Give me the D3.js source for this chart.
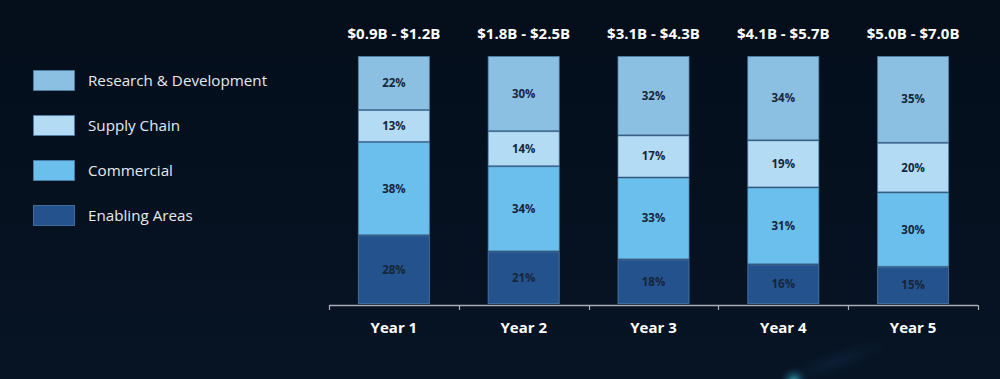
<!DOCTYPE html>
<html>
<head>
<meta charset="utf-8">
<script src="https://cdn.jsdelivr.net/npm/d3@7"></script>
<style>
  html, body { margin: 0; padding: 0; background: #06111f; }
  svg { display: block; }
  text { font-family: "Open Sans", "Noto Sans", sans-serif; }
</style>
</head>
<body>
<svg id="chart" width="1000" height="379"></svg>
<script>
// ---- data ----
const years = ["Year 1", "Year 2", "Year 3", "Year 4", "Year 5"];
const totals = ["$0.9B - $1.2B", "$1.8B - $2.5B", "$3.1B - $4.3B", "$4.1B - $5.7B", "$5.0B - $7.0B"];
const seriesNames = ["Enabling Areas", "Commercial", "Supply Chain", "Research & Development"];
const enabling = [28, 21, 18, 16, 15];
const commercial = [38, 34, 33, 31, 30];
const supplyChain = [13, 14, 17, 19, 20];
const research = [22, 30, 32, 34, 35];
const legendOrder = ["Research & Development", "Supply Chain", "Commercial", "Enabling Areas"];

const colors = {
  "Research & Development": "#8cc0e3",
  "Supply Chain": "#b4dbf4",
  "Commercial": "#6bbfec",
  "Enabling Areas": "#23528c"
};

const rows = years.map((y, i) => ({
  year: y,
  "Enabling Areas": enabling[i],
  "Commercial": commercial[i],
  "Supply Chain": supplyChain[i],
  "Research & Development": research[i]
}));

const svg = d3.select("#chart");
const W = 1000, H = 379;

// background
const defs = svg.append("defs");
const bg = defs.append("linearGradient").attr("id", "bg").attr("x1", 0).attr("y1", 0).attr("x2", 0).attr("y2", 1);
bg.append("stop").attr("offset", "0%").attr("stop-color", "#040e1b");
bg.append("stop").attr("offset", "100%").attr("stop-color", "#071424");
svg.append("rect").attr("width", W).attr("height", H).attr("fill", "url(#bg)");

const glow = defs.append("radialGradient").attr("id", "glow");
glow.append("stop").attr("offset", "0%").attr("stop-color", "#3fb3b8").attr("stop-opacity", 0.9);
glow.append("stop").attr("offset", "45%").attr("stop-color", "#1f6f86").attr("stop-opacity", 0.5);
glow.append("stop").attr("offset", "100%").attr("stop-color", "#0a2236").attr("stop-opacity", 0);
const streak = defs.append("radialGradient").attr("id", "streak");
streak.append("stop").attr("offset", "0%").attr("stop-color", "#0d2640").attr("stop-opacity", 0.6);
streak.append("stop").attr("offset", "100%").attr("stop-color", "#0d2640").attr("stop-opacity", 0);
svg.append("ellipse").attr("cx", 835).attr("cy", 362).attr("rx", 55).attr("ry", 12)
  .attr("transform", "rotate(-20 835 362)").attr("fill", "url(#streak)");
svg.append("circle").attr("cx", 794).attr("cy", 381).attr("r", 15).attr("fill", "url(#glow)");

// scales
const x = d3.scaleBand().domain(years).range([329, 978]).paddingInner(0.445).paddingOuter(0.2225);
const y = d3.scaleLinear().domain([0, 1]).range([304, 56]);

const stack = d3.stack().keys(seriesNames).offset(d3.stackOffsetExpand);
const layers = stack(rows);

const g = svg.append("g");
layers.forEach((layer, li) => {
  const key = layer.key;
  const origVals = [enabling, commercial, supplyChain, research][li];
  layer.forEach((d, i) => {
    const x0 = x(d.data.year);
    const yTop = y(d[1]);
    const yBot = y(d[0]);
    g.append("rect")
      .attr("x", x0 + 0.5)
      .attr("y", yTop + 0.5)
      .attr("width", x.bandwidth() - 1)
      .attr("height", yBot - yTop - 1)
      .attr("fill", colors[key])
      .attr("stroke", "#4f82ad")
      .attr("stroke-opacity", 0.75)
      .attr("stroke-width", 1);
    g.append("text")
      .attr("x", x0 + x.bandwidth() / 2)
      .attr("y", (yTop + yBot) / 2)
      .attr("dy", "0.35em")
      .attr("text-anchor", "middle")
      .attr("font-size", 11.5)
      .attr("font-weight", 700)
      .attr("fill", "#16263a")
      .text(origVals[i] + "%");
  });
});

// totals above bars
svg.append("g").selectAll("text").data(years).join("text")
  .attr("x", d => x(d) + x.bandwidth() / 2)
  .attr("y", 39)
  .attr("text-anchor", "middle")
  .attr("font-size", 15)
  .attr("font-weight", 700)
  .attr("fill", "#ffffff")
  .text((d, i) => totals[i]);

// x axis
const axisG = svg.append("g").attr("transform", "translate(0,305)");
const boundaries = years.map(d => x(d) - x.step() * x.paddingInner() / 2).concat([978]);
boundaries[0] = 329;
axisG.append("line").attr("x1", 329).attr("x2", 978).attr("y1", 0.5).attr("y2", 0.5)
  .attr("stroke", "#a9adb3").attr("stroke-width", 1.5);
axisG.selectAll(".tk").data(boundaries).join("line").attr("class", "tk")
  .attr("x1", d => Math.round(d) + 0.5).attr("x2", d => Math.round(d) + 0.5)
  .attr("y1", 0).attr("y2", 5)
  .attr("stroke", "#a9adb3").attr("stroke-width", 1.2);
const xAxis = d3.axisBottom(x).tickSize(0).tickPadding(0);
const ax = svg.append("g").attr("transform", "translate(0,305)").call(xAxis);
ax.select(".domain").remove();
ax.selectAll("text")
  .attr("y", 28)
  .attr("dy", 0)
  .attr("font-size", 15)
  .attr("font-weight", 700)
  .attr("fill", "#ffffff")
  .style("font-family", "'Open Sans', sans-serif");

// legend
const lg = svg.append("g");
legendOrder.forEach((name, i) => {
  const yy = 70 + i * 45;
  lg.append("rect").attr("x", 33.5).attr("y", yy + 0.5).attr("width", 41).attr("height", 20)
    .attr("fill", colors[name]).attr("stroke", "#4f82ad").attr("stroke-opacity", 0.75).attr("stroke-width", 1);
  lg.append("text").attr("x", 88).attr("y", yy + 10.5).attr("dy", "0.35em")
    .attr("font-size", 15.2).attr("fill", "#e6e9ee").text(name);
});
</script>
</body>
</html>
